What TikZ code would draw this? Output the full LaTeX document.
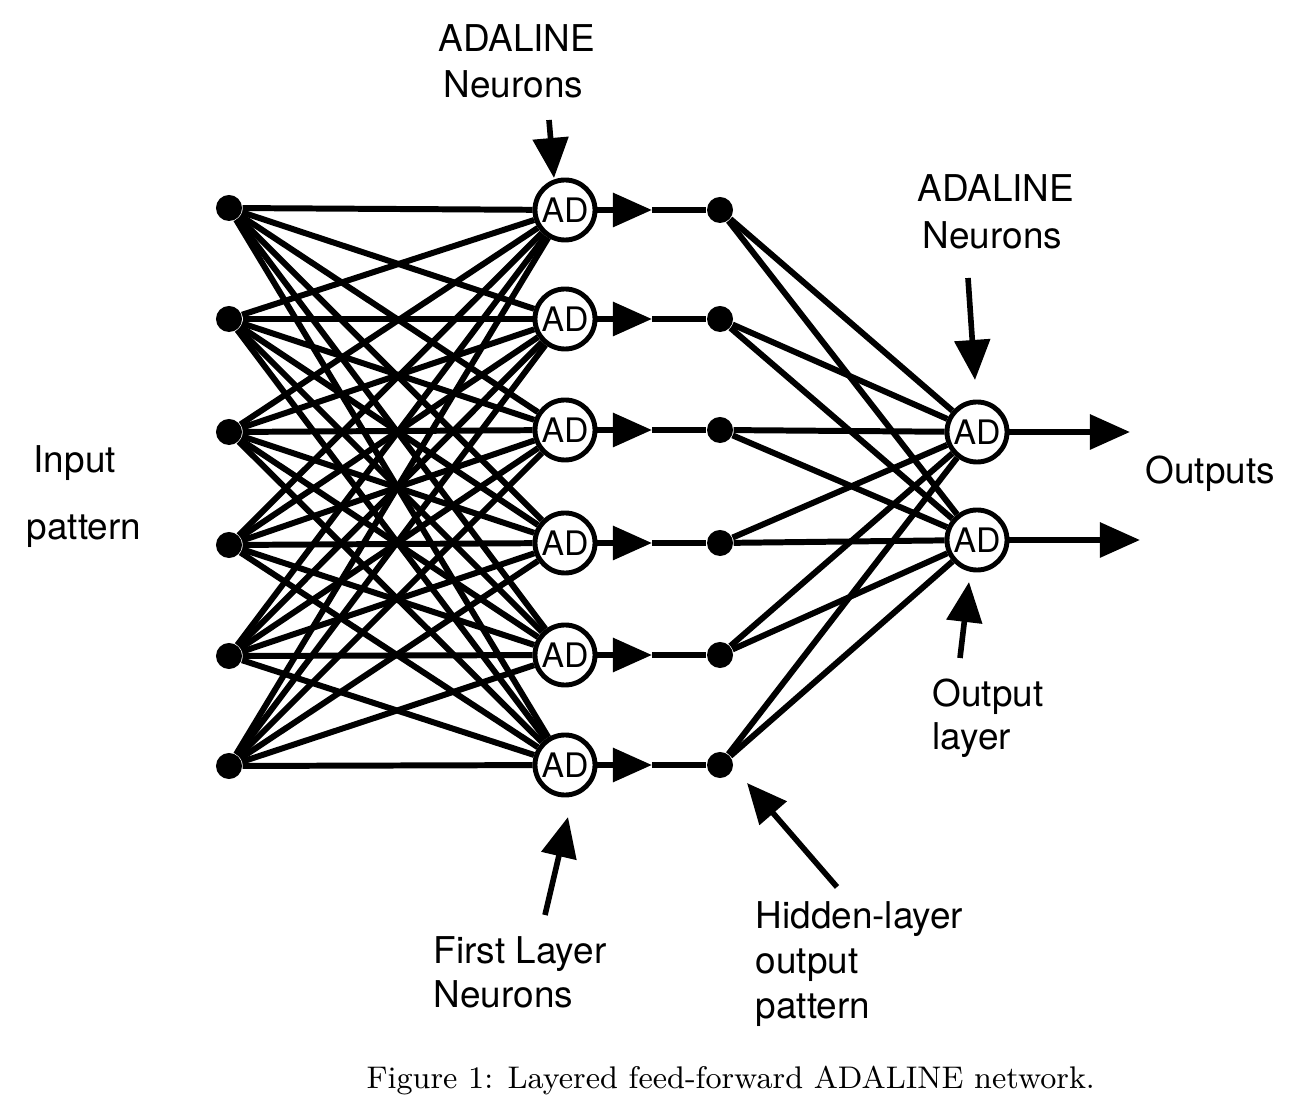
\documentclass[tikz,border=0pt]{standalone}
\usepackage{fontspec}
\newfontfamily\labfont{TeX Gyre Heros}
\usetikzlibrary{arrows.meta}
\begin{document}
\begin{tikzpicture}[x=0.01cm,y=-0.01cm,
  wire/.style={line width=1.7pt},
  headA/.style={-{Triangle[length=0.39cm,width=0.33cm]}},
  headB/.style={-{Triangle[length=0.40cm,width=0.34cm]}},
  ptr/.style={line width=1.6pt,-{Triangle[length=0.40cm,width=0.35cm]}},
  inpt/.style={circle,fill,inner sep=0pt,minimum size=0.26cm},
  adnode/.style={circle,draw,line width=1.4pt,inner sep=0pt,minimum size=0.60cm,fill=white,
    font=\labfont\fontsize{9.6}{10}\selectfont},
  lbl/.style={anchor=base west,inner sep=0pt,font=\labfont\fontsize{10.5}{12}\selectfont}]
\useasboundingbox (0,0) rectangle (1306,1116);

% layers
\foreach \i/\y/\yi in {1/210/208,2/319/319,3/430/432,4/543/545,5/655/656,6/765/766} {
  \node[inpt] (i\i) at (229,\yi) {};
  \node[adnode] (a\i) at (565,\y) {AD};
  \node[inpt] (h\i) at (720,\y) {};
  \coordinate (t\i) at (652,\y);
}
\node[adnode] (o1) at (977,432) {AD};
\node[adnode] (o2) at (977,540) {AD};
\coordinate (e1) at (1130,432);
\coordinate (e2) at (1140,540);

% connections
\foreach \i in {1,...,6} {
  \foreach \j in {1,...,6} {
    \draw[wire] (i\i) -- (a\j);
  }
  \draw[wire,headA] (a\i) -- (t\i);
  \draw[wire] (t\i) -- (h\i);
  \draw[wire] (h\i) -- (o1);
  \draw[wire] (h\i) -- (o2);
}
\draw[wire,headB] (o1) -- (e1);
\draw[wire,headB] (o2) -- (e2);

% labels
\node[lbl] (l1) at (438,52) {ADALINE};
\node[lbl] (l2) at (443,98) {Neurons};
\node[lbl] (l3) at (917,202) {ADALINE};
\node[lbl] (l4) at (922,249) {Neurons};
\node[lbl] (l5) at (33,473) {Input};
\node[lbl] (l6) at (26,540) {pattern};
\node[lbl] (l7) at (1145,484) {Outputs};
\node[lbl] (l8) at (932,707) {Output};
\node[lbl] (l9) at (932,750) {layer};
\node[lbl] (l10) at (433,963) {First Layer};
\node[lbl] (l11) at (433,1007) {Neurons};
\node[lbl] (l12) at (755,928) {Hidden-layer};
\node[lbl] (l13) at (755,973) {output};
\node[lbl] (l14) at (755,1018) {pattern};
\node[anchor=base west,inner sep=0pt,font=\fontsize{8.9}{11}\selectfont] (cap) at (366,1088)
  {Figure 1: Layered feed-forward ADALINE network.};

% label pointers
\coordinate (p1s) at (549,120); \coordinate (p1e) at (554,178);
\coordinate (p2s) at (968,278); \coordinate (p2e) at (975,380);
\coordinate (p3s) at (960,658); \coordinate (p3e) at (969,582);
\coordinate (p4s) at (545,915); \coordinate (p4e) at (568,817);
\coordinate (p5s) at (837,887); \coordinate (p5e) at (747,783);
\draw[ptr] (p1s) -- (p1e);
\draw[ptr] (p2s) -- (p2e);
\draw[ptr] (p3s) -- (p3e);
\draw[ptr] (p4s) -- (p4e);
\draw[ptr] (p5s) -- (p5e);
\end{tikzpicture}
\end{document}
